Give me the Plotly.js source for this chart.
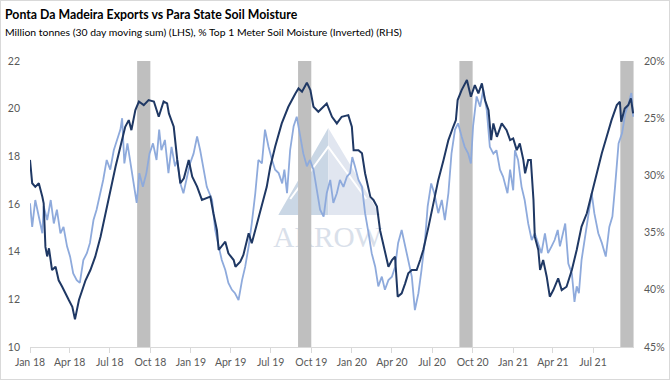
<!DOCTYPE html>
<html>
<head>
<meta charset="utf-8">
<script src="https://cdn.plot.ly/plotly-3.0.1.min.js"></script>
<style>
  html, body { margin: 0; padding: 0; background: #fff; }
  #wrap { position: relative; width: 670px; height: 380px; }
  #chart { width: 670px; height: 380px; }
  #frame { position: absolute; left: 0; top: 0; width: 670px; height: 380px; box-sizing: border-box; border: 1px solid #d9d9d9; pointer-events: none; }
</style>
</head>
<body>
<div id="wrap"><div id="chart"></div><div id="frame"></div></div>
<script>
// Ponta Da Madeira exports, million tonnes (30 day moving sum) - LHS
const exportDates = [
 '2018-01-01','2018-01-06','2018-01-13','2018-01-21','2018-01-29','2018-02-01','2018-02-05','2018-02-09','2018-02-13','2018-02-20',
 '2018-02-28','2018-03-07','2018-03-15','2018-03-22','2018-03-30','2018-04-07','2018-04-13','2018-04-22','2018-04-29','2018-05-07',
 '2018-05-18','2018-05-29','2018-06-10','2018-06-21','2018-07-02','2018-07-14','2018-07-25','2018-08-05','2018-08-13','2018-08-19',
 '2018-08-28','2018-09-05','2018-09-16','2018-09-27','2018-10-09','2018-10-20','2018-10-31','2018-11-08','2018-11-12','2018-11-23',
 '2018-12-01','2018-12-08','2018-12-16','2018-12-27','2019-01-04','2019-01-15','2019-01-26','2019-02-14','2019-02-21','2019-03-01',
 '2019-03-05','2019-03-20','2019-03-27','2019-04-08','2019-04-12','2019-04-23','2019-04-30','2019-05-12','2019-05-19','2019-05-31',
 '2019-06-11','2019-06-22','2019-06-30','2019-07-11','2019-07-26','2019-08-10','2019-08-26','2019-09-02','2019-09-10','2019-09-21',
 '2019-09-29','2019-10-06','2019-10-17','2019-10-29','2019-11-05','2019-11-17','2019-11-28','2019-12-09','2019-12-24','2020-01-01',
 '2020-01-05','2020-01-16','2020-01-24','2020-01-31','2020-02-12','2020-02-19','2020-02-27','2020-03-05','2020-03-16','2020-03-24',
 '2020-04-01','2020-04-08','2020-04-14','2020-04-23','2020-05-01','2020-05-08','2020-05-16','2020-05-27','2020-06-04','2020-06-11',
 '2020-06-23','2020-07-04','2020-07-15','2020-07-27','2020-08-07','2020-08-18','2020-08-24','2020-08-28','2020-09-06','2020-09-18',
 '2020-09-27','2020-10-06','2020-10-14','2020-10-22','2020-10-29','2020-11-06','2020-11-12','2020-11-17','2020-11-25','2020-12-06',
 '2020-12-17','2020-12-25','2021-01-01','2021-01-09','2021-01-16','2021-01-24','2021-01-28','2021-02-04','2021-02-10','2021-02-16',
 '2021-02-19','2021-02-27','2021-03-03','2021-03-10','2021-03-18','2021-03-25','2021-04-02','2021-04-13','2021-04-21','2021-05-02',
 '2021-05-14','2021-05-25','2021-06-05','2021-06-17','2021-06-28','2021-07-09','2021-07-21','2021-08-01','2021-08-12','2021-08-24',
 '2021-08-31','2021-09-03','2021-09-11','2021-09-19','2021-09-25','2021-09-30'
];
const exportValues = [
 17.85,16.87,16.72,16.87,16.30,16.03,14.20,13.80,14.14,13.23,
 13.37,12.80,12.53,12.25,11.97,11.69,11.16,11.97,12.39,12.80,
 13.23,13.79,14.63,15.60,16.59,17.56,18.40,19.24,19.52,19.10,
 19.94,20.30,20.15,20.36,20.30,19.66,20.30,20.22,19.80,19.24,
 17.85,16.87,17.08,17.85,17.15,16.73,16.17,16.31,15.61,14.90,
 14.07,14.42,13.93,13.65,13.37,13.58,13.86,14.77,14.35,15.19,
 15.89,16.72,17.56,18.40,19.38,20.08,20.64,20.85,20.71,21.09,
 20.78,20.08,19.87,20.08,20.22,19.66,19.38,19.66,19.73,19.24,
 18.26,18.26,18.13,17.29,16.30,16.17,15.89,14.90,14.07,13.37,
 13.65,13.79,12.11,12.25,12.67,13.09,13.23,13.23,13.65,14.07,
 15.05,16.03,17.00,17.85,18.68,19.24,19.52,20.36,20.78,21.20,
 20.50,20.99,20.64,21.06,20.36,19.94,18.68,19.38,18.82,19.38,
 19.10,18.68,18.75,18.26,18.54,17.85,17.29,17.85,17.85,16.17,
 14.63,14.07,13.23,13.65,12.95,12.11,12.39,12.88,12.39,12.53,
 13.23,14.07,15.05,15.61,16.45,17.29,18.13,18.82,19.52,20.15,
 20.29,19.45,20.01,20.15,20.43,19.80
];

// Para State soil moisture, % top 1 meter (inverted) - RHS
const soilDates = [
 '2018-01-01','2018-01-06','2018-01-13','2018-01-21','2018-01-29','2018-02-01','2018-02-09','2018-02-17','2018-02-24','2018-03-03',
 '2018-03-11','2018-03-18','2018-03-26','2018-04-02','2018-04-09','2018-04-17','2018-04-24','2018-05-02','2018-05-10','2018-05-17',
 '2018-05-25','2018-06-01','2018-06-09','2018-06-16','2018-06-24','2018-07-02','2018-07-10','2018-07-17','2018-07-25','2018-07-29',
 '2018-08-03','2018-08-10','2018-08-17','2018-08-25','2018-08-31','2018-09-06','2018-09-14','2018-09-22','2018-09-29','2018-10-07',
 '2018-10-15','2018-10-21','2018-10-26','2018-11-03','2018-11-11','2018-11-18','2018-11-26','2018-12-01','2018-12-08','2018-12-15',
 '2018-12-23','2018-12-30','2019-01-07','2019-01-15','2019-01-22','2019-01-30','2019-02-06','2019-02-18','2019-02-25','2019-03-05',
 '2019-03-12','2019-03-20','2019-03-27','2019-04-04','2019-04-11','2019-04-19','2019-04-27','2019-05-04','2019-05-12','2019-05-19',
 '2019-05-27','2019-06-03','2019-06-11','2019-06-18','2019-06-26','2019-07-04','2019-07-11','2019-07-19','2019-07-27','2019-08-01',
 '2019-08-07','2019-08-14','2019-08-22','2019-08-29','2019-09-06','2019-09-13','2019-09-21','2019-09-28','2019-10-06','2019-10-14',
 '2019-10-21','2019-10-29','2019-11-05','2019-11-13','2019-11-20','2019-11-28','2019-12-05','2019-12-13','2019-12-21','2019-12-28',
 '2020-01-02','2020-01-08','2020-01-16','2020-01-24','2020-01-31','2020-02-08','2020-02-15','2020-02-23','2020-03-01','2020-03-09',
 '2020-03-16','2020-03-24','2020-04-01','2020-04-08','2020-04-15','2020-04-23','2020-05-01','2020-05-08','2020-05-16','2020-05-23',
 '2020-05-31','2020-06-07','2020-06-15','2020-06-21','2020-06-29','2020-07-06','2020-07-15','2020-07-23','2020-07-30','2020-08-07',
 '2020-08-14','2020-08-22','2020-08-29','2020-09-06','2020-09-13','2020-09-21','2020-09-27','2020-10-02','2020-10-10','2020-10-18',
 '2020-10-25','2020-11-02','2020-11-09','2020-11-17','2020-11-24','2020-12-02','2020-12-09','2020-12-19','2020-12-25','2021-01-01',
 '2021-01-05','2021-01-12','2021-01-20','2021-01-27','2021-02-04','2021-02-12','2021-02-19','2021-02-26','2021-03-06','2021-03-14',
 '2021-03-21','2021-03-29','2021-04-05','2021-04-12','2021-04-17','2021-04-29','2021-05-06','2021-05-14','2021-05-20','2021-05-25',
 '2021-05-30','2021-06-05','2021-06-13','2021-06-20','2021-06-28','2021-07-04','2021-07-13','2021-07-21','2021-07-30','2021-08-07',
 '2021-08-14','2021-08-20','2021-08-28','2021-09-05','2021-09-12','2021-09-20','2021-09-26','2021-09-30'
];
const soilValues = [
 32.44,34.50,32.15,33.60,35.06,32.70,33.90,32.15,34.20,33.00,
 35.06,34.50,36.20,37.10,38.56,39.15,39.40,37.40,36.80,35.90,
 33.90,33.00,31.56,30.40,28.65,29.50,27.80,26.90,26.00,25.00,
 28.95,27.20,28.95,30.70,32.40,29.80,31.00,29.80,28.10,27.20,
 28.65,26.00,27.80,26.90,29.80,27.50,29.20,28.65,30.70,31.56,
 30.10,28.95,28.10,26.60,27.80,29.50,31.00,32.15,34.77,36.20,
 37.40,38.27,39.40,40.00,40.30,40.90,39.15,38.00,36.20,34.20,
 31.56,28.65,28.95,26.00,27.50,28.65,29.50,29.80,30.70,29.50,
 31.56,27.80,25.70,24.87,26.60,28.10,29.20,28.65,29.50,31.56,
 33.00,33.60,31.56,30.40,32.40,31.56,30.40,31.00,30.10,29.80,
 28.40,29.20,30.40,31.00,33.30,35.06,36.80,37.98,39.70,38.85,
 40.00,39.15,38.85,38.00,35.90,34.77,36.20,37.40,38.85,41.77,
 40.30,38.27,35.65,32.70,30.70,31.56,33.30,32.15,33.90,31.56,
 28.10,26.00,25.45,26.60,27.50,28.10,28.95,25.70,23.10,23.99,
 22.50,24.30,27.50,28.10,27.80,29.50,30.10,31.56,29.50,31.30,
 27.80,28.65,31.00,32.15,34.20,35.65,35.06,35.90,36.80,35.06,
 36.80,36.20,35.65,34.77,36.20,34.20,37.70,38.56,41.05,39.70,
 40.30,37.40,35.36,33.90,31.56,33.30,35.06,35.90,37.10,34.50,
 33.60,31.00,27.20,26.30,24.60,23.70,22.80,24.87
];

// Shaded periods (Sep each year)
const shadeStarts = ['2018-09-01','2019-09-01','2020-09-01','2021-09-01'];
const shadeEnds   = ['2018-10-01','2019-10-01','2020-10-01','2021-10-01'];

// Axis ticks
const xTickVals = ['2018-01-01','2018-04-01','2018-07-01','2018-10-01','2019-01-01','2019-04-01','2019-07-01','2019-10-01',
                   '2020-01-01','2020-04-01','2020-07-01','2020-10-01','2021-01-01','2021-04-01','2021-07-01'];
const xTickText = ['Jan 18','Apr 18','Jul 18','Oct 18','Jan 19','Apr 19','Jul 19','Oct 19',
                   'Jan 20','Apr 20','Jul 20','Oct 20','Jan 21','Apr 21','Jul 21'];
const leftTicks = [10,12,14,16,18,20,22];
const rightTicks = [20,25,30,35,40,45];
const rightTickText = ['20%','25%','30%','35%','40%','45%'];

const FONT = 'Lato, "Liberation Sans", Arial, sans-serif';
const TICKCOL = '#595959';

const shapes = shadeStarts.map((s, i) => ({
  type: 'rect', xref: 'x', yref: 'paper', x0: s, x1: shadeEnds[i], y0: 0, y1: 1,
  fillcolor: '#bfbfbf', line: {width: 0}, layer: 'below'
}));

const wmSvg = `<svg xmlns="http://www.w3.org/2000/svg" width="120" height="130" viewBox="0 0 120 130">
<polygon points="58,3 8,90 58,90" fill="#cad7e5"/>
<polygon points="58,3 110,90 58,90" fill="#e1e6f0"/>
<polyline points="20,74 58,22 96,74" fill="none" stroke="#ffffff" stroke-width="2"/>
<text x="3" y="122" font-family="Liberation Serif, serif" font-size="29" fill="#d9e0ea" textLength="109" lengthAdjust="spacingAndGlyphs">ARROW</text>
</svg>`;

const traces = [
  {
    x: soilDates, y: soilValues, type: 'scatter', mode: 'lines', yaxis: 'y',
    line: {color: '#8eaadc', width: 1.8}, hoverinfo: 'skip', name: 'Soil moisture'
  },
  {
    x: exportDates, y: exportValues, type: 'scatter', mode: 'lines', yaxis: 'y2',
    line: {color: '#1f3864', width: 2}, hoverinfo: 'skip', name: 'Exports'
  }
];

const layout = {
  width: 670, height: 380,
  margin: {l: 29.5, r: 36, t: 61, b: 33, pad: 0},
  paper_bgcolor: '#ffffff', plot_bgcolor: '#ffffff',
  showlegend: false,
  font: {family: FONT, color: TICKCOL, size: 11},
  title: {
    text: '<b>Ponta Da Madeira Exports vs Para State Soil Moisture</b>',
    xref: 'container', yref: 'container', x: 0.0075, xanchor: 'left', y: 1 - 15/380, yanchor: 'middle',
    font: {family: FONT, size: 12.3, color: '#000000'}
  },
  annotations: [{
    text: 'Million tonnes (30 day moving sum) (LHS), % Top 1 Meter Soil Moisture (Inverted) (RHS)',
    xref: 'paper', yref: 'paper', x: (2 - 29.5) / 604.5, y: (347 - 32) / 286,
    xanchor: 'left', yanchor: 'middle', showarrow: false,
    font: {family: FONT, size: 10.4, color: '#000000'}
  }],
  xaxis: {
    type: 'date', range: ['2018-01-01', '2021-10-02'],
    tickmode: 'array', tickvals: xTickVals, ticktext: xTickText,
    showgrid: false, zeroline: false,
    showline: true, linecolor: '#d9d9d9', linewidth: 1,
    ticks: 'outside', ticklen: 5, tickcolor: '#d9d9d9', tickwidth: 1,
    tickfont: {family: FONT, size: 10.5, color: TICKCOL}
  },
  yaxis: {
    range: [45, 20], side: 'right', tickmode: 'array', tickvals: rightTicks, ticktext: rightTickText,
    showgrid: false, zeroline: false, showline: false, ticks: '',
    ticklabelstandoff: 9,
    tickfont: {family: FONT, size: 10.5, color: TICKCOL}
  },
  yaxis2: {
    range: [10, 22], side: 'left', overlaying: 'y', tickmode: 'array', tickvals: leftTicks,
    showgrid: false, zeroline: false, showline: false, ticks: '',
    ticklabelstandoff: 9,
    tickfont: {family: FONT, size: 10.5, color: TICKCOL}
  },
  shapes: shapes,
  images: [{
    source: 'data:image/svg+xml;charset=utf-8,' + encodeURIComponent(wmSvg),
    xref: 'paper', yref: 'paper',
    x: (270 - 29.5) / 604.5, y: (347 - 125) / 286,
    sizex: 120 / 604.5, sizey: 130 / 286,
    xanchor: 'left', yanchor: 'top', sizing: 'stretch', layer: 'below', opacity: 1
  }]
};

Plotly.newPlot('chart', traces, layout, {displayModeBar: false, staticPlot: true});
</script>
</body>
</html>
